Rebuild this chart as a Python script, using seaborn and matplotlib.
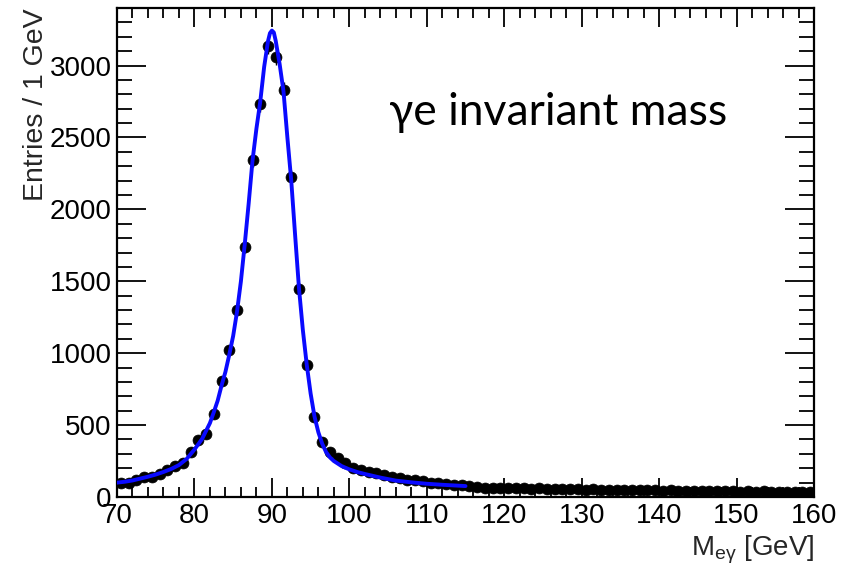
import numpy as np
import pandas as pd
import matplotlib
matplotlib.use("Agg")
import matplotlib.pyplot as plt
from matplotlib.ticker import MultipleLocator
import seaborn as sns

# ---- data ----
mass_bins = [70.5 + i for i in range(90)]
entries = [
    95, 98, 118, 141, 141, 160, 187, 215, 234, 315,
    396, 440, 576, 806, 1021, 1299, 1738, 2340, 2731, 3139,
    3058, 2833, 2224, 1449, 917, 558, 385, 310, 269, 236,
    205, 190, 175, 165, 150, 140, 130, 120, 115, 108,
    100, 95, 90, 85, 80, 75, 68, 64, 66, 62,
    63, 60, 62, 58, 60, 57, 59, 55, 56, 54,
    52, 55, 50, 52, 49, 50, 47, 49, 46, 47,
    44, 46, 43, 45, 42, 44, 41, 42, 40, 41,
    38, 40, 37, 39, 36, 38, 35, 37, 34, 38,
]

fit_mass = [70, 71, 72, 73, 74, 75, 76, 77, 78, 79, 80, 81, 82, 82.5, 83, 83.5,
            84, 84.5, 85, 85.5, 86, 86.5, 87, 87.5, 88, 88.5, 89, 89.5, 89.75, 90,
            90.25, 90.5, 91, 91.5, 92, 92.5, 93, 93.5, 94, 94.5, 95, 95.5, 96,
            96.5, 97, 97.5, 98, 99, 100, 101, 102, 104, 106, 108, 110, 112, 114, 115]
fit_vals = [100, 106, 115, 128, 141, 156, 174, 195, 222, 265, 330, 405, 514, 590, 670, 775,
            870, 990, 1120, 1290, 1500, 1760, 2040, 2340, 2560, 2750, 2990, 3170, 3225, 3243,
            3230, 3170, 3010, 2820, 2500, 2200, 1820, 1450, 1160, 920, 720, 560, 450,
            370, 312, 275, 250, 215, 192, 174, 160, 135, 114, 102, 92, 85, 79, 76]

x_label = "M$\\mathregular{_{e\u03b3}}$ [GeV]"
y_label = "Entries / 1 GeV"
title_text = "\u03b3e invariant mass"

data = pd.DataFrame({"mass": mass_bins, "entries": entries})
fit = pd.DataFrame({"mass": fit_mass, "fit": fit_vals})

sns.set_style("ticks")
plt.rcParams["font.family"] = ["Liberation Sans", "DejaVu Sans"]
plt.rcParams["mathtext.fontset"] = "custom"
plt.rcParams["mathtext.rm"] = "Liberation Sans"

fig = plt.figure(figsize=(8.56, 5.67), dpi=100)
ax = fig.add_axes([117 / 856, 1 - 497 / 567, (814 - 117) / 856, (497 - 8) / 567])

ax.errorbar(data["mass"], data["entries"], yerr=np.sqrt(data["entries"]),
            fmt="none", ecolor="black", elinewidth=1.0, zorder=2)
sns.scatterplot(data=data, x="mass", y="entries", ax=ax, color="black",
                s=62, edgecolor="black", linewidth=0.5, zorder=3, legend=False)
sns.lineplot(data=fit, x="mass", y="fit", ax=ax, color="#0a0aff",
             linewidth=2.8, zorder=4, legend=False)

ax.set_xlim(70, 160)
ax.set_ylim(0, 3400)
ax.xaxis.set_major_locator(MultipleLocator(10))
ax.xaxis.set_minor_locator(MultipleLocator(2))
ax.yaxis.set_major_locator(MultipleLocator(500))
ax.yaxis.set_minor_locator(MultipleLocator(100))

ax.tick_params(axis="both", which="both", direction="in", top=True, right=True,
               colors="black", width=1.3, labelsize=20)
ax.tick_params(axis="x", which="major", length=14, pad=4)
ax.tick_params(axis="x", which="minor", length=7)
ax.tick_params(axis="y", which="major", length=21, pad=4)
ax.tick_params(axis="y", which="minor", length=11)
for s in ax.spines.values():
    s.set_linewidth(1.6)
    s.set_color("black")

ax.set_xlabel(x_label, fontsize=20, ha="right", x=1.0, labelpad=4)
ax.set_ylabel(y_label, fontsize=20.5, ha="right", y=1.0, labelpad=0)

fig.text(389 / 856, 1 - 125 / 567, title_text, fontsize=32,
         family=["Lato", "DejaVu Sans"], color="black", ha="left", va="baseline")

fig.savefig("out.png", dpi=100, facecolor="white")
